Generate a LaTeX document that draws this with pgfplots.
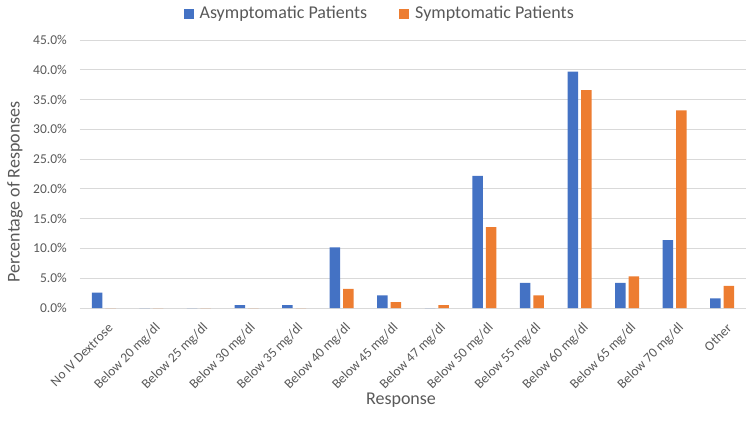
\documentclass[border=0pt]{standalone}
\usepackage{pgfplots}
\pgfplotsset{compat=1.18}
\usepackage{pgfplotstable}
\usepackage{fontspec}
\setmainfont{Carlito}

\definecolor{asym}{HTML}{4472C4}
\definecolor{sym}{HTML}{ED7D31}
\definecolor{gridgray}{HTML}{D9D9D9}
\definecolor{textgray}{HTML}{595959}

% Share of responses (%) per threshold category
\pgfplotstableread{
idx asym sym
0   2.6  0
1   0    0
2   0    0
3   0.5  0
4   0.5  0
5   10.2 3.2
6   2.1  1.0
7   0    0.5
8   22.2 13.6
9   4.2  2.1
10  39.7 36.6
11  4.2  5.3
12  11.4 33.2
13  1.6  3.7
}\responses

\begin{document}
\begin{tikzpicture}
\path[use as bounding box] (0,0) rectangle (750pt,429pt);
\begin{axis}[
  at={(80pt,121pt)}, anchor=south west,
  width=666pt, height=268pt, scale only axis,
  ybar=3pt, bar width=10.5pt,
  xmin=-0.5, xmax=13.5,
  ymin=0, ymax=45,
  xtick={0,...,13},
  xticklabels={No IV Dextrose,Below 20 mg/dl,Below 25 mg/dl,Below 30 mg/dl,Below 35 mg/dl,Below 40 mg/dl,Below 45 mg/dl,Below 47 mg/dl,Below 50 mg/dl,Below 55 mg/dl,Below 60 mg/dl,Below 65 mg/dl,Below 70 mg/dl,Other},
  ytick={0,5,...,45},
  yticklabels={0.0\%,5.0\%,10.0\%,15.0\%,20.0\%,25.0\%,30.0\%,35.0\%,40.0\%,45.0\%},
  major tick length=0pt,
  axis line style={draw=none},
  ymajorgrids, grid style={gridgray, line width=1pt},
  tick label style={font=\fontsize{13.5}{16}\selectfont, text=textgray},
  yticklabel style={inner sep=0pt, xshift=-13pt},
  xticklabel style={inner sep=0pt, xshift=7pt, yshift=-18pt, rotate=45, anchor=east},
  xlabel={Response},
  ylabel={Percentage of Responses},
  label style={font=\fontsize{18}{21}\selectfont, text=textgray},
  xlabel style={at={(axis description cs:0.482,0)}, yshift=-92pt, anchor=center},
  ylabel style={at={(axis description cs:-0.0976,0.433)}, anchor=center},
  legend columns=2,
  legend style={at={(0.45,1)}, yshift=26.5pt, anchor=center, draw=none,
    font=\fontsize{18}{21}\selectfont, text=textgray,
    /tikz/every odd column/.append style={column sep=4pt},
    /tikz/every even column/.append style={column sep=30pt}},
  legend image code/.code={\fill[#1] (0pt,-5pt) rectangle (10pt,5pt);},
]
\addplot[fill=asym, draw=none] table[x=idx, y=asym] {\responses};
\addplot[fill=sym, draw=none] table[x=idx, y=sym] {\responses};
\legend{Asymptomatic Patients, Symptomatic Patients}
\end{axis}
\end{tikzpicture}
\end{document}
